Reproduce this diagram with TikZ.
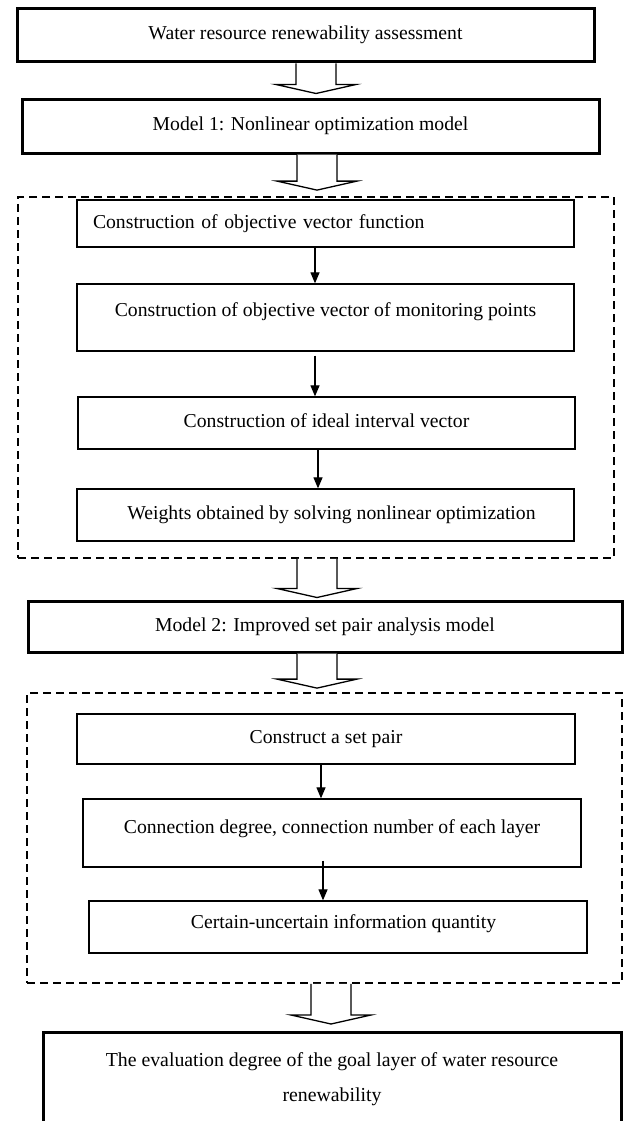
\documentclass[tikz,border=0pt]{standalone}
\usepackage{fontspec}
\setmainfont{Liberation Serif}
\usetikzlibrary{arrows.meta,calc}
\newcommand{\hollowarrow}[4]{%
  \draw[hollow] let \p1=(#1.south), \p2=(#2.north), \p3=(#3) in
    (\x3-20pt,\y1) -- (\x3-20pt,\y2+#4pt+9pt) -- (\x3-40pt,\y2+#4pt+9pt) --
    (\x3,\y2+#4pt) -- (\x3+40pt,\y2+#4pt+9pt) -- (\x3+20pt,\y2+#4pt+9pt) --
    (\x3+20pt,\y1);
}
\begin{document}
\begin{tikzpicture}[x=1pt,y=-1pt,
  every node/.style={font=\fontsize{19.7}{23}\selectfont},
  thinbox/.style={draw, line width=1.3pt, inner sep=0pt, text height=13pt, text depth=4pt},
  thickbox/.style={draw, line width=3pt, inner sep=0pt, text height=13pt, text depth=4pt},
  grpbox/.style={draw, line width=1.8pt, dash pattern=on 8pt off 5pt, inner sep=0pt},
  hollow/.style={draw, line width=1.3pt, line join=miter, fill=white},
  thinarr/.style={line width=1.2pt, -{Triangle[length=11pt,width=9pt]}}
]
\useasboundingbox (0,0) rectangle (624,1121);

% group frames
\node[grpbox, minimum width=596pt, minimum height=361pt] (g1) at (316,377.5) {};
\node[grpbox, minimum width=595pt, minimum height=290pt] (g2) at (324.5,838) {};

% main boxes
\node[thickbox, minimum width=577pt, minimum height=53pt] (top) at (305.5,35.5)
  {Water resource renewability assessment};
\node[thickbox, minimum width=577pt, minimum height=53pt] (m1) at (310.5,126.5)
  {Model 1: Nonlinear optimization model};

\node[thinbox, minimum width=497pt, minimum height=47pt, text width=465pt,
  inner xsep=16pt, align=left] (a) at (325.5,223.5)
  {Construction of objective vector function};
\node[thinbox, minimum width=497pt, minimum height=67pt, text depth=16pt] (b) at (325.5,317.5)
  {Construction of objective vector of monitoring points};
\node[thinbox, minimum width=497pt, minimum height=52pt] (c) at (326.5,423)
  {Construction of ideal interval vector};
\node[thinbox, minimum width=497pt, minimum height=52pt] (d) at (325.5,515)
  {\hspace*{12pt}Weights obtained by solving nonlinear optimization};

\node[thickbox, minimum width=594pt, minimum height=51pt] (m2) at (325,626.5)
  {Model 2: Improved set pair analysis model};

\node[thinbox, minimum width=498pt, minimum height=50pt] (e) at (326,739)
  {Construct a set pair};
\node[thinbox, minimum width=498pt, minimum height=68pt, text depth=13pt] (f) at (332,833)
  {Connection degree, connection number of each layer};
\node[thinbox, minimum width=498pt, minimum height=52pt, text depth=11pt] (g) at (338,927)
  {\hspace*{11pt}Certain-uncertain information quantity};

\node[thickbox, minimum width=578pt, minimum height=150pt, anchor=north,
  text height=13pt, text depth=95pt] (final) at (332,1031)
  {\parbox[t]{570pt}{\centering\fontsize{19.8}{35}\selectfont
   The evaluation degree of the goal layer of water resource\\ renewability}};

% arrow axes
\coordinate (h1) at (316,0);
\coordinate (h2) at (317,0);
\coordinate (h5) at (331,0);
\coordinate (x1) at (315,0);
\coordinate (x3) at (318,0);
\coordinate (x4) at (321,0);
\coordinate (x5) at (323,0);

% hollow arrows
\hollowarrow{top}{m1}{h1}{5}
\hollowarrow{m1}{g1}{h2}{6}
\hollowarrow{g1}{m2}{h2}{2}
\hollowarrow{m2}{g2}{h2}{4}
\hollowarrow{g2}{final}{h5}{7}

% thin arrows
\draw[thinarr] (a.south -| x1) -- (b.north -| x1);
\draw[thinarr] ([yshift=-4pt]b.south -| x1) -- (c.north -| x1);
\draw[thinarr] (c.south -| x3) -- (d.north -| x3);
\draw[thinarr] (e.south -| x4) -- (f.north -| x4);
\draw[thinarr] ([yshift=7pt]f.south -| x5) -- (g.north -| x5);
\end{tikzpicture}
\end{document}
